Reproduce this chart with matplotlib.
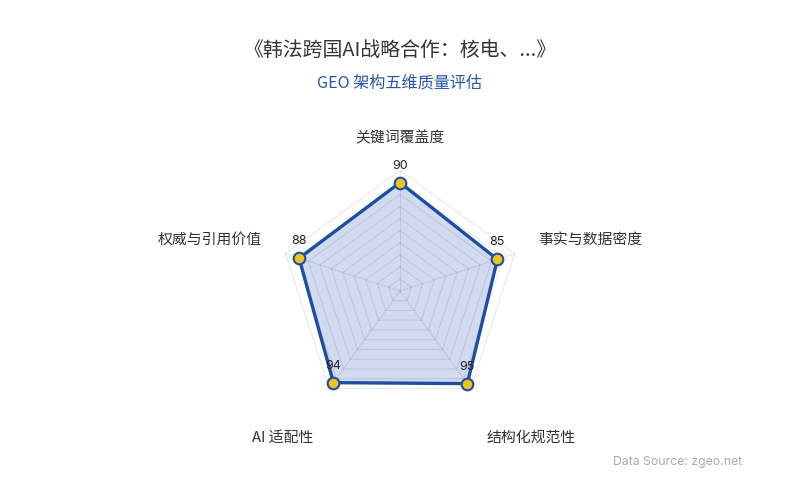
import numpy as np
import matplotlib
matplotlib.use('Agg')
import matplotlib.pyplot as plt

plt.rcParams['font.family'] = ['Noto Sans CJK SC', 'DejaVu Sans']

# === 数据 ===
title = "《韩法跨国AI战略合作：核电、...》"
subtitle = "GEO 架构五维质量评估"
axes_names = ['关键词覆盖度', '事实与数据密度', '结构化规范性', 'AI 适配性', '权威与引用价值']
scores = [90, 85, 95, 94, 88]
max_score = 100
levels = 10
source = "Data Source: zgeo.net"

# 雷达图角度（从正上方顺时针）
n = len(axes_names)
theta = np.arange(n) * 2 * np.pi / n

def to_xy(r, t):
    return r * np.sin(t), r * np.cos(t)

# 1 个单位 = 1.205 像素, 中心在 (400, 291)
scale = 1.205
fig = plt.figure(figsize=(8, 5), dpi=100)
ax = fig.add_axes([0, 0, 1, 1])
ax.set_xlim(-400 / scale, 400 / scale)
ax.set_ylim(-209 / scale, 291 / scale)
ax.axis('off')

# 网格
for i in range(1, levels + 1):
    r = max_score * i / levels
    gx, gy = to_xy(np.full(n + 1, r), np.append(theta, theta[0]))
    ax.plot(gx, gy, color='black', alpha=0.09, lw=0.8, zorder=3)
for t in theta:
    sx, sy = to_xy(np.array([0, max_score]), np.array([t, t]))
    ax.plot(sx, sy, color='black', alpha=0.09, lw=0.8, zorder=3)

# 数据区域
vx, vy = to_xy(np.array(scores + scores[:1], dtype=float), np.append(theta, theta[0]))
ax.fill(vx, vy, color='#4a6fbf', alpha=0.25, lw=0, zorder=2)
ax.plot(vx, vy, color='#1d4ea1', lw=2.4, zorder=4)
ax.scatter(vx[:-1], vy[:-1], s=70, color='#f2c31b', edgecolor='#1d4ea1', linewidth=1.5, zorder=5)

for x, y, v in zip(vx[:-1], vy[:-1], scores):
    ax.annotate(str(v), (x, y), xytext=(0, 11), textcoords='offset pixels',
                ha='center', va='bottom', fontsize=9, color='#222222', zorder=6,
                family=['Inter', 'DejaVu Sans'])

# 轴名称 (半径像素, 水平对齐, 额外偏移像素)
name_pos = [(153, 'center', 0, 0), (145, 'left', 0, 6), (148, 'left', 0, -27),
            (148, 'right', 0, -27), (145, 'right', 0, 6)]
for i, (r, ha, dx, dy) in enumerate(name_pos):
    x, y = to_xy(r / scale, theta[i])
    ax.annotate(axes_names[i], (x, y), xytext=(dx, dy), textcoords='offset pixels',
                ha=ha, va='center', fontsize=10.7, color='#333333')

fig.text(0.5, 0.898, title, ha='center', va='center', fontsize=14.3, color='#333333')
fig.text(0.5, 0.834, subtitle, ha='center', va='center', fontsize=11.6, color='#2856a6')
fig.text(0.928, 0.076, source, ha='right', va='center', fontsize=8.8, color='#aaaaaa',
         family=['Inter', 'DejaVu Sans'])

fig.savefig('out.png', dpi=100)
